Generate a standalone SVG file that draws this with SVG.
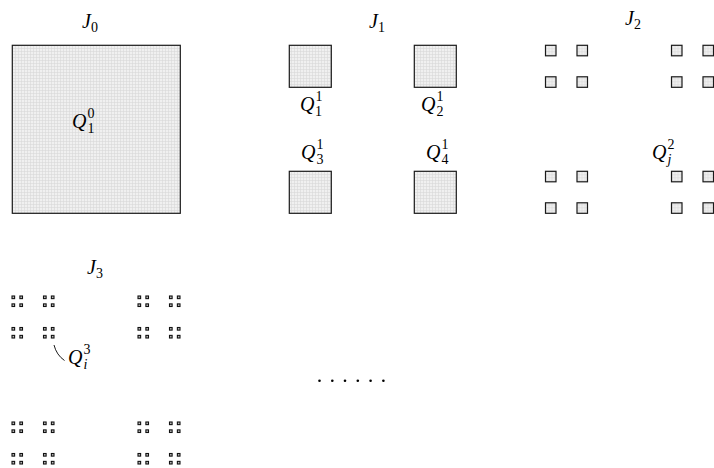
<svg xmlns="http://www.w3.org/2000/svg" xmlns:xlink="http://www.w3.org/1999/xlink" width="714" height="468" viewBox="0 0 714 468">
<style>
.sq{fill:url(#grid);stroke:#1a1a1a;stroke-width:1.2}
.sq3{fill:#bbbbbb;stroke:#111;stroke-width:1.1}
.m{font-family:"Liberation Serif","DejaVu Serif",serif;font-style:italic;font-size:20px;fill:#000}
.s{font-family:"Liberation Serif","DejaVu Serif",serif;font-style:normal;font-size:14px;fill:#000}
.si{font-family:"Liberation Serif","DejaVu Serif",serif;font-style:italic;font-size:14px;fill:#000}
.conn{fill:none;stroke:#000;stroke-width:0.9}
</style>
<defs>
<pattern id="grid" width="3" height="3" patternUnits="userSpaceOnUse">
<rect width="3" height="3" fill="#f0f0f0"/>
<path d="M0 0.5H3M0.5 0V3" stroke="#d8d8d8" stroke-width="0.6" fill="none"/>
</pattern>
<g id="s2">
<rect class="sq" x="0" y="0" width="10.5" height="10.5"/>
<rect class="sq" x="31.5" y="0" width="10.5" height="10.5"/>
<rect class="sq" x="0" y="31.5" width="10.5" height="10.5"/>
<rect class="sq" x="31.5" y="31.5" width="10.5" height="10.5"/>
</g>
<g id="s3">
<rect class="sq3" x="0" y="0" width="2.625" height="2.625"/>
<rect class="sq3" x="7.875" y="0" width="2.625" height="2.625"/>
<rect class="sq3" x="0" y="7.875" width="2.625" height="2.625"/>
<rect class="sq3" x="7.875" y="7.875" width="2.625" height="2.625"/>
</g>
<g id="b3">
<use xlink:href="#s3" href="#s3" x="0" y="0"/>
<use xlink:href="#s3" href="#s3" x="31.5" y="0"/>
<use xlink:href="#s3" href="#s3" x="0" y="31.5"/>
<use xlink:href="#s3" href="#s3" x="31.5" y="31.5"/>
</g>
</defs>
<rect width="714" height="468" fill="#fff"/>

<g id="J0">
<rect class="sq" x="12.3" y="45.3" width="168" height="168"/>
<text class="m" x="82" y="28">J<tspan class="s" dy="4">0</tspan></text>
<text class="m" x="72" y="128">Q<tspan class="s" dx="1" dy="-10">0</tspan><tspan class="s" dx="-7" dy="15">1</tspan></text>
</g>

<g id="J1">
<rect class="sq" x="289.3" y="45.3" width="42" height="42"/>
<rect class="sq" x="414.3" y="45.3" width="42" height="42"/>
<rect class="sq" x="289.3" y="171.3" width="42" height="42"/>
<rect class="sq" x="414.3" y="171.3" width="42" height="42"/>
<text class="m" x="369" y="28">J<tspan class="s" dy="4">1</tspan></text>
<text class="m" x="300" y="111">Q<tspan class="s" dx="1" dy="-10">1</tspan><tspan class="s" dx="-7" dy="15">1</tspan></text>
<text class="m" x="421" y="111">Q<tspan class="s" dx="1" dy="-10">1</tspan><tspan class="s" dx="-7" dy="15">2</tspan></text>
<text class="m" x="301" y="159">Q<tspan class="s" dx="1" dy="-10">1</tspan><tspan class="s" dx="-7" dy="15">3</tspan></text>
<text class="m" x="426" y="159">Q<tspan class="s" dx="1" dy="-10">1</tspan><tspan class="s" dx="-7" dy="15">4</tspan></text>
</g>

<g id="J2">
<use xlink:href="#s2" href="#s2" x="545.5" y="45.3"/>
<use xlink:href="#s2" href="#s2" x="671.5" y="45.3"/>
<use xlink:href="#s2" href="#s2" x="545.5" y="171.3"/>
<use xlink:href="#s2" href="#s2" x="671.5" y="171.3"/>
<text class="m" x="625" y="25">J<tspan class="s" dy="4">2</tspan></text>
<text class="m" x="652" y="159">Q<tspan class="s" dx="1" dy="-10">2</tspan><tspan class="si" dx="-7" dy="15">j</tspan></text>
</g>

<g id="J3">
<use xlink:href="#b3" href="#b3" x="12" y="296"/>
<use xlink:href="#b3" href="#b3" x="138" y="296"/>
<use xlink:href="#b3" href="#b3" x="12" y="422"/>
<use xlink:href="#b3" href="#b3" x="138" y="422"/>
<text class="m" x="87" y="274">J<tspan class="s" dy="4">3</tspan></text>
<text class="m" x="68" y="364">Q<tspan class="s" dx="1" dy="-10">3</tspan><tspan class="si" dx="-7" dy="15">i</tspan></text>
</g>

<g id="connectors">
<path class="conn" d="M54 345 Q56.5 355 64.5 360.5"/>
</g>

<g id="dots" fill="#000">
<circle cx="319.5" cy="380.7" r="1.3"/>
<circle cx="332.3" cy="380.7" r="1.3"/>
<circle cx="345" cy="380.7" r="1.3"/>
<circle cx="357.8" cy="380.7" r="1.3"/>
<circle cx="370.6" cy="380.7" r="1.3"/>
<circle cx="383.4" cy="380.7" r="1.3"/>
</g>
</svg>
